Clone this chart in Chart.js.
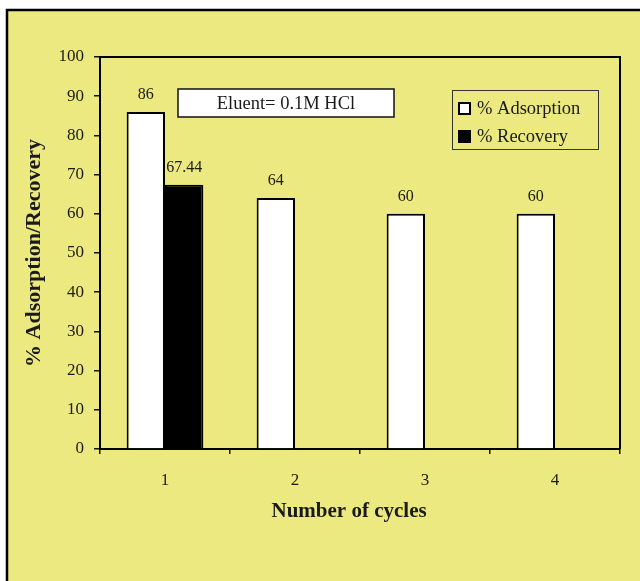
<!DOCTYPE html>
<html>
<head>
<meta charset="utf-8">
<script src="https://cdn.jsdelivr.net/npm/chart.js@4.4.1/dist/chart.umd.min.js"></script>
<style>
  html, body { margin: 0; padding: 0; background: #ffffff; }
  #wrap { width: 640px; height: 581px; position: relative; }
</style>
</head>
<body>
<div id="wrap"><canvas id="chart" width="640" height="581"></canvas></div>
<script>
// Regeneration cycles and measured percentages
const cycles = ['1', '2', '3', '4'];
const adsorption = [86, 64, 60, 60];
const recovery = [67.44, null, null, null];
const seriesNames = ['% Adsorption', '% Recovery'];
const yTitle = '% Adsorption/Recovery';
const xTitle = 'Number of cycles';
const eluentNote = 'Eluent= 0.1M HCl';

const PANEL = 'rgb(235,233,127)';
const INK = '#1a1a1a';
const SERIF = '"Liberation Serif", "Times New Roman", serif';

// Yellow panel with a black frame on its top and left edges
const panelPlugin = {
  id: 'panel',
  beforeDraw(chart) {
    const ctx = chart.ctx;
    ctx.save();
    ctx.fillStyle = '#ffffff';
    ctx.fillRect(0, 0, chart.width, chart.height);
    ctx.fillStyle = PANEL;
    ctx.fillRect(7, 10, chart.width - 7, chart.height - 10);
    ctx.strokeStyle = '#000';
    ctx.lineWidth = 2.5;
    ctx.beginPath();
    ctx.moveTo(7, chart.height);
    ctx.lineTo(7, 10);
    ctx.lineTo(chart.width, 10);
    ctx.stroke();
    ctx.restore();
  }
};

// Plot frame, value labels, x-axis title, note box and legend
const decorPlugin = {
  id: 'decor',
  afterDatasetsDraw(chart) {
    const ctx = chart.ctx;
    const a = chart.chartArea;
    ctx.save();

    // top and right edges of the plot frame
    ctx.strokeStyle = '#000';
    ctx.lineWidth = 2;
    ctx.beginPath();
    ctx.moveTo(a.left, a.top);
    ctx.lineTo(a.right, a.top);
    ctx.lineTo(a.right, a.bottom);
    ctx.stroke();

    // values above the bars
    ctx.fillStyle = INK;
    ctx.font = '16px ' + SERIF;
    ctx.textAlign = 'center';
    ctx.textBaseline = 'middle';
    chart.data.datasets.forEach((ds, di) => {
      const meta = chart.getDatasetMeta(di);
      meta.data.forEach((bar, i) => {
        const v = ds.data[i];
        if (v === null || v === undefined) return;
        ctx.fillText(String(v), bar.x, bar.y - 17);
      });
    });

    // x-axis title, set slightly left of the plot centre
    ctx.font = 'bold 21px ' + SERIF;
    ctx.fillText(xTitle, a.left + (a.right - a.left) * 0.479, 512);

    // eluent note
    ctx.fillStyle = '#ffffff';
    ctx.fillRect(178, 89, 216, 28);
    ctx.strokeStyle = '#111';
    ctx.lineWidth = 1.5;
    ctx.strokeRect(178, 89, 216, 28);
    ctx.fillStyle = INK;
    ctx.font = '18.5px ' + SERIF;
    ctx.fillText(eluentNote, 286, 104);

    // legend
    ctx.strokeStyle = '#333';
    ctx.lineWidth = 1;
    ctx.strokeRect(452.5, 90.5, 146, 59);
    const rows = [109, 137];
    chart.data.datasets.forEach((ds, di) => {
      const y = rows[di];
      ctx.fillStyle = ds.backgroundColor;
      ctx.fillRect(459, y - 6, 11, 11);
      ctx.strokeStyle = '#000';
      ctx.lineWidth = 2;
      ctx.strokeRect(459, y - 6, 11, 11);
      ctx.fillStyle = INK;
      ctx.font = '18.5px ' + SERIF;
      ctx.textAlign = 'left';
      ctx.fillText(ds.label, 477, y);
    });
    ctx.restore();
  }
};

new Chart(document.getElementById('chart'), {
  type: 'bar',
  data: {
    labels: cycles,
    datasets: [
      {
        label: seriesNames[0],
        data: adsorption,
        backgroundColor: '#ffffff',
        borderColor: '#000000',
        borderWidth: 2
      },
      {
        label: seriesNames[1],
        data: recovery,
        backgroundColor: '#000000',
        borderColor: '#000000',
        borderWidth: 2
      }
    ]
  },
  options: {
    responsive: false,
    animation: false,
    devicePixelRatio: 1,
    categoryPercentage: 0.59,
    barPercentage: 1,
    layout: { padding: { top: 57, right: 20, left: 0, bottom: 0 } },
    plugins: {
      legend: { display: false },
      tooltip: { enabled: false }
    },
    scales: {
      x: {
        afterFit(scale) { scale.height = 132; },
        grid: {
          offset: true,
          drawOnChartArea: false,
          drawTicks: true,
          tickLength: 5,
          color: '#111',
          lineWidth: 1.5
        },
        border: { display: true, color: '#000', width: 2 },
        ticks: {
          padding: 16,
          color: INK,
          font: { family: SERIF, size: 17 }
        }
      },
      y: {
        min: 0,
        max: 100,
        afterFit(scale) { scale.width = 100; },
        grid: {
          drawOnChartArea: false,
          drawTicks: true,
          tickLength: 6,
          color: '#111',
          lineWidth: 1.5
        },
        border: { display: true, color: '#000', width: 2 },
        ticks: {
          stepSize: 10,
          padding: 10,
          color: INK,
          font: { family: SERIF, size: 17 }
        },
        title: {
          display: true,
          text: yTitle,
          color: INK,
          font: { family: SERIF, size: 22, weight: 'bold' },
          padding: { top: 21, bottom: 0 }
        }
      }
    }
  },
  plugins: [panelPlugin, decorPlugin]
});
</script>
</body>
</html>
